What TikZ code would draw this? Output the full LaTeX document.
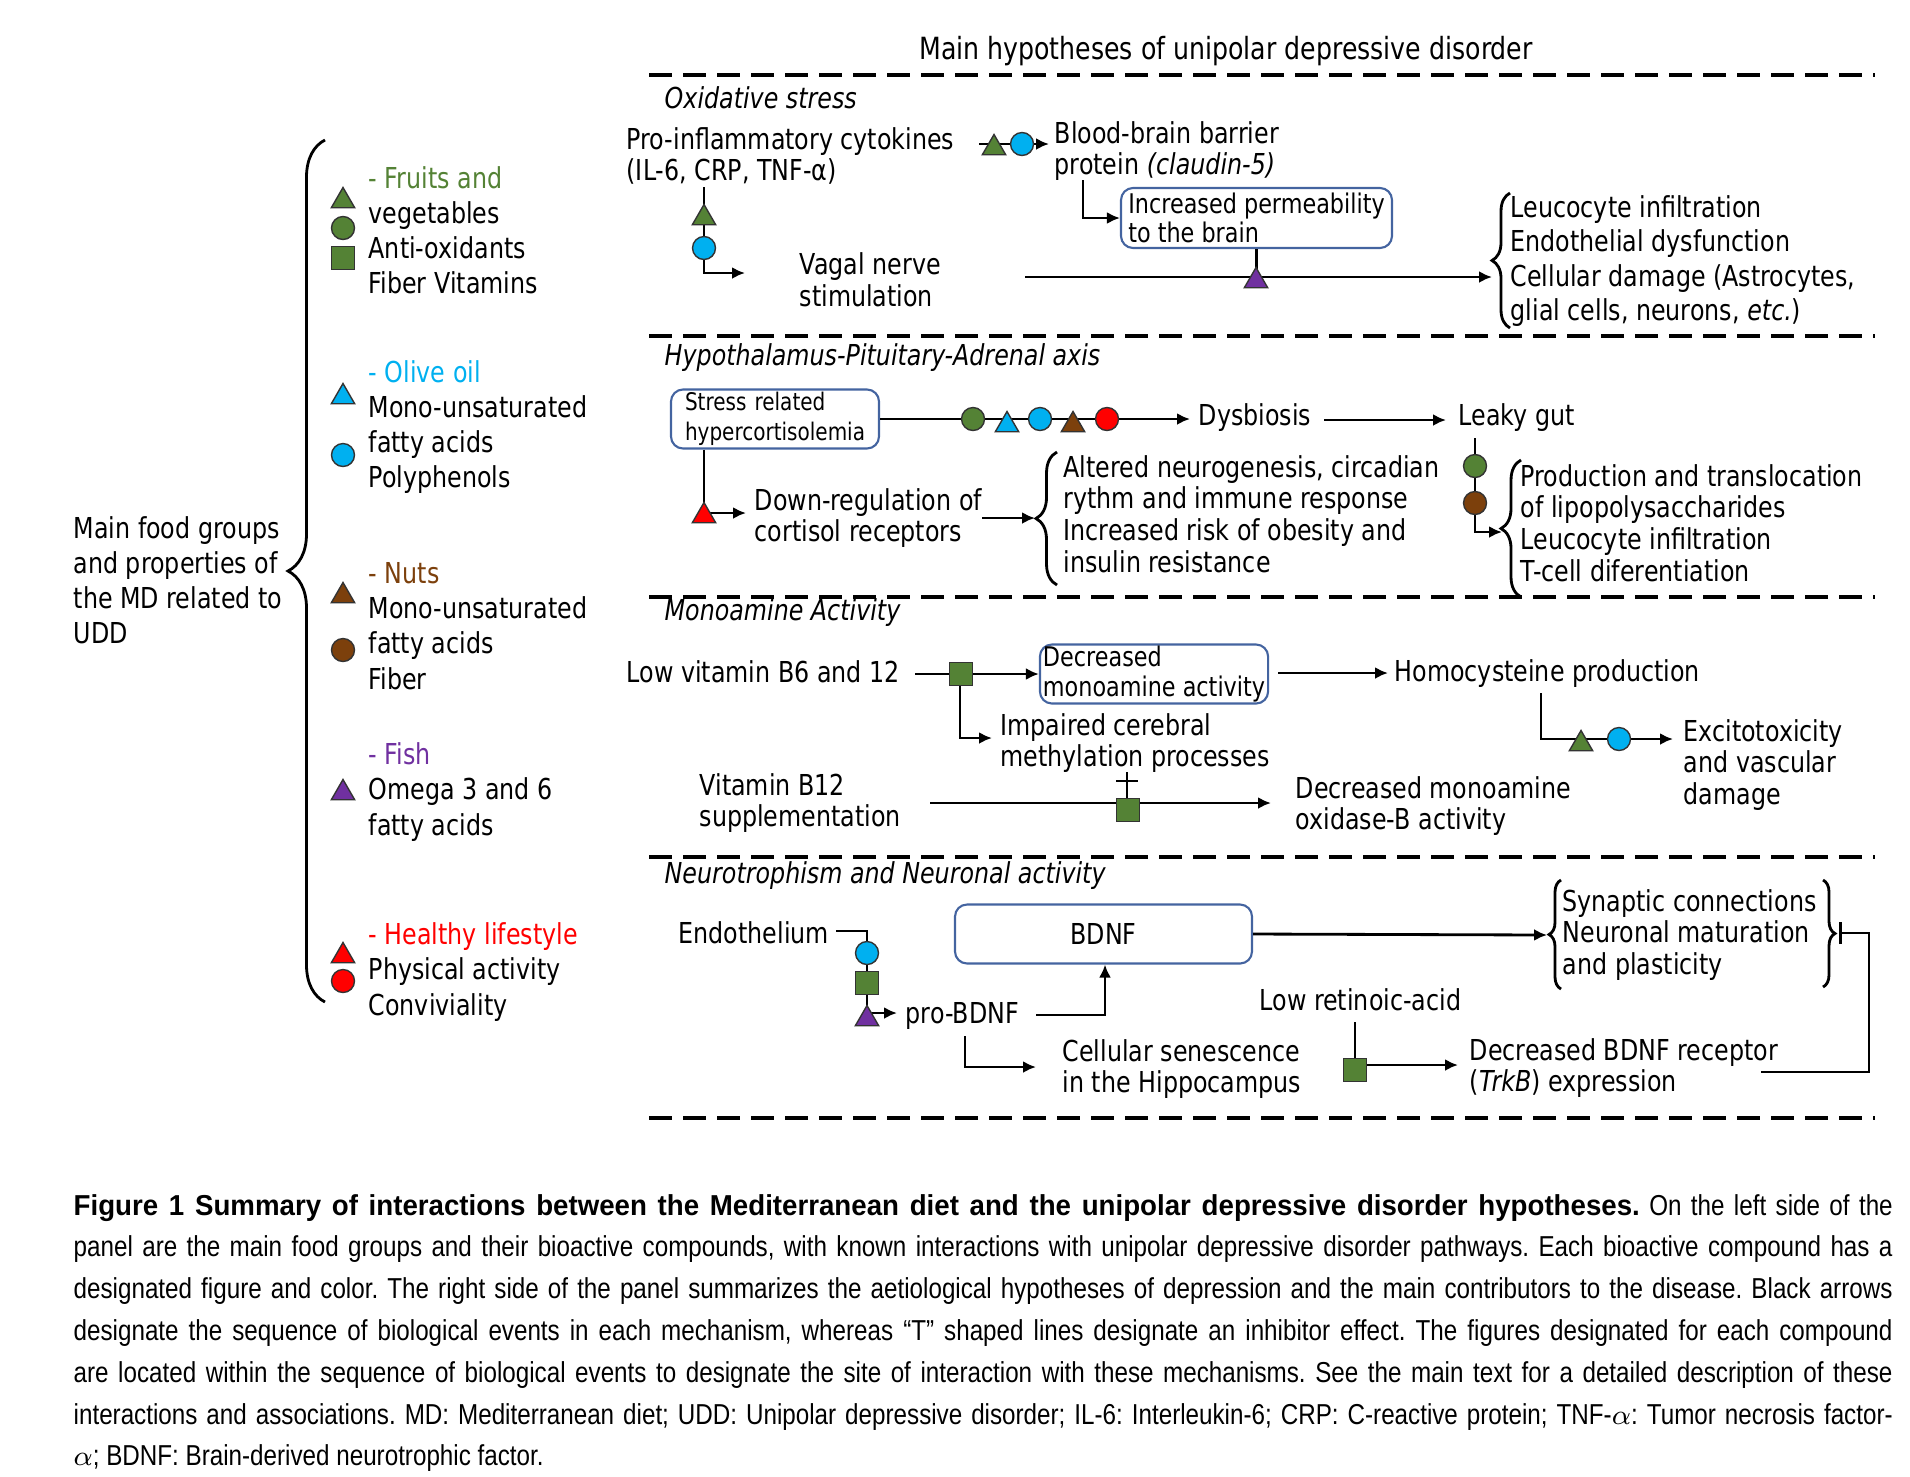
\documentclass[tikz,border=0pt]{standalone}
\usepackage{fontspec}
\setmainfont{DejaVu Sans}[FakeStretch=0.825]
\newfontfamily\capfont{Liberation Sans}[FakeStretch=0.84, BoldFeatures={FakeStretch=0.96}]
\usetikzlibrary{arrows.meta,shapes.geometric,decorations.pathreplacing}

\definecolor{fgreen}{RGB}{84,130,53}
\definecolor{fcyan}{RGB}{0,176,240}
\definecolor{fbrown}{RGB}{124,64,12}
\definecolor{fpurple}{RGB}{112,48,160}
\definecolor{fred}{RGB}{255,0,0}
\definecolor{boxblue}{RGB}{68,100,160}

\tikzset{
  txt/.style={inner sep=0pt, anchor=west, align=left, font=\fontsize{8.2}{9}\selectfont},
  leg/.style={txt, font=\fontsize{8.2}{10}\selectfont},
  sect/.style={txt, font=\fontsize{8.2}{9}\selectfont\itshape},
  hyp/.style={draw=boxblue, line width=0.6pt, rounded corners=1.2mm, inner xsep=0.3mm, inner ysep=0pt, align=left, font=\fontsize{7.7}{8.3}\selectfont},
  link/.style={line width=0.8pt},
  sep/.style={line width=1.2pt, dash pattern=on 2.3mm off 1.1mm},
  mk/.style={draw=black!80, line width=0.4pt, inner sep=0pt, outer sep=0pt},
  tri/.style={mk, regular polygon, regular polygon sides=3, minimum size=2.7mm, fill=#1},
  dot/.style={mk, circle, minimum size=2.3mm, fill=#1},
  sq/.style={mk, rectangle, minimum size=2.3mm, fill=#1},
  curly/.style={decorate, decoration={brace, amplitude=#1}, line width=0.8pt},
  curly/.default=1.9mm,
  capt/.style={inner sep=0pt, anchor=west, align=left, font=\capfont\fontsize{8.2}{11.9}\selectfont\frenchspacing},
  >={Latex[length=1.3mm,width=1.2mm]}
}

\begin{document}
\begin{tikzpicture}[x=0.1mm,y=-0.1mm]
\useasboundingbox (0,0) rectangle (1910,1476);

% food groups of the diet
\node[leg] (food) at (73,580) {Main food groups\\and properties of\\the MD related to\\UDD};
\draw[curly=3.7mm] (325,1002) -- (325,140);

\node[leg] (fruit) at (368,230) {\textcolor{fgreen}{- Fruits and}\\vegetables\\Anti-oxidants\\Fiber Vitamins};
\node[leg] (olive) at (368,427) {\textcolor{fcyan}{- Olive oil}\\Mono-unsaturated\\fatty acids\\Polyphenols};
\node[leg] (nuts) at (368,626) {\textcolor{fbrown}{- Nuts}\\Mono-unsaturated\\fatty acids\\Fiber};
\node[leg] (fish) at (368,792) {\textcolor{fpurple}{- Fish}\\Omega 3 and 6\\fatty acids};
\node[leg] (life) at (368,972) {\textcolor{fred}{- Healthy lifestyle}\\Physical activity\\Conviviality};

\node[tri=fgreen] (fruit-t) at (343,201) {};
\node[dot=fgreen] (fruit-c) at (343,228) {};
\node[sq=fgreen] (fruit-s) at (343,258) {};
\node[tri=fcyan] (olive-t) at (343,397) {};
\node[dot=fcyan] (olive-c) at (343,455) {};
\node[tri=fbrown] (nuts-t) at (343,596) {};
\node[dot=fbrown] (nuts-c) at (343,650) {};
\node[tri=fpurple] (fish-t) at (343,793) {};
\node[tri=fred] (life-t) at (343,956) {};
\node[dot=fred] (life-c) at (343,981) {};

% hypotheses
\node[txt, anchor=center, font=\fontsize{8.7}{9}\selectfont] (title) at (1226,51) {Main hypotheses of unipolar depressive disorder};
\foreach \y in {75,336,597,857,1118}
  \draw[sep] (649,\y) -- (1875,\y);

\node[sect] (s-ox) at (664,98) {Oxidative stress};
\node[sect] (s-hpa) at (664,358) {Hypothalamus-Pituitary-Adrenal axis};
\node[sect] (s-mono) at (664,613) {Monoamine Activity};
\node[sect] (s-neuro) at (664,876) {Neurotrophism and Neuronal activity};

% oxidative stress
\node[txt] (cyto) at (626,156) {Pro-inflammatory cytokines\\(IL-6, CRP, TNF-α)};
\node[txt] (bbb) at (1054,151) {Blood-brain barrier\\protein \textit{(claudin-5)}};
\node[hyp, minimum width=27.1mm, minimum height=6mm] (perm) at (1256.5,218) {Increased permeability\\to the brain};
\node[txt] (vagal) at (799,280) {Vagal nerve\\stimulation};
\node[txt, font=\fontsize{8.2}{9.8}\selectfont] (damage) at (1510,261) {Leucocyte infiltration\\Endothelial dysfunction\\Cellular damage (Astrocytes,\\glial cells, neurons, \textit{etc.})};

\coordinate (cy1) at (704,187);
\coordinate (cy2) at (745,273);
\coordinate (cy3) at (979,144);
\coordinate (cy4) at (1049,144);
\coordinate (bb1) at (1083,180);
\coordinate (vg1) at (1025,277);
\coordinate (vg2) at (1492,277);
\draw[link,->] (cy1) |- (cy2);
\draw[link,->] (cy3) -- (cy4);
\draw[link,->] (bb1) |- (perm.west);
\draw[link] (perm.south) -- (perm.south |- vg1);
\draw[link,->] (vg1) -- (vg2);
\draw[curly=1.8mm] (1510,328) -- (1510,193);

\node[tri=fgreen] (cy-t1) at (704,218) {};
\node[dot=fcyan] (cy-c1) at (704,248) {};
\node[tri=fgreen] (cy-t2) at (994,148) {};
\node[dot=fcyan] (cy-c2) at (1022,144) {};
\node[tri=fpurple] (vg-t) at (1256,281) {};

% HPA axis
\node[hyp, font=\fontsize{6.9}{8.5}\selectfont, inner xsep=1.4mm, text width=18mm, minimum height=5.9mm] (stress) at (775,419) {Stress related\\hypercortisolemia};
\node[txt] (dys) at (1198,418) {Dysbiosis};
\node[txt] (leaky) at (1458,418) {Leaky gut};
\node[txt] (down) at (754,518) {Down-regulation of\\cortisol receptors};
\node[txt] (alt) at (1063,514) {Altered neurogenesis, circadian\\rythm and immune response\\Increased risk of obesity and\\insulin resistance};
\node[txt] (lps) at (1520,523) {Production and translocation\\of lipopolysaccharides\\Leucocyte infiltration\\T-cell diferentiation};

\coordinate (st0) at (704,0);
\coordinate (st1) at (1190,419);
\coordinate (st2) at (746,513);
\coordinate (dy1) at (1324,420);
\coordinate (dy2) at (1446,420);
\coordinate (lk1) at (1475,438);
\coordinate (lk2) at (1502,532);
\coordinate (dn1) at (982,518);
\coordinate (dn2) at (1035,518);
\draw[link,->] (stress.east) -- (st1);
\draw[link,->] (dy1) -- (dy2);
\draw[link,->] (lk1) |- (lk2);
\draw[link,->] (stress.south -| st0) |- (st2);
\draw[link,->] (dn1) -- (dn2);
\draw[curly=2.1mm] (1057,585) -- (1057,452);
\draw[curly=2mm] (1521,597) -- (1521,460);

\node[dot=fgreen] (st-c1) at (973,419) {};
\node[tri=fcyan] (st-t1) at (1007,425) {};
\node[dot=fcyan] (st-c2) at (1040,419) {};
\node[tri=fbrown] (st-t2) at (1073,425) {};
\node[dot=fred] (st-c3) at (1107,419) {};
\node[tri=fred] (st-t3) at (704,516) {};
\node[dot=fgreen] (lk-c1) at (1475,466) {};
\node[dot=fbrown] (lk-c2) at (1475,503) {};

% monoamine activity
\node[txt] (lowb) at (626,672) {Low vitamin B6 and 12};
\node[hyp, minimum width=22.6mm, minimum height=5.9mm] (mao) at (1154,674) {Decreased\\monoamine activity};
\node[txt] (homo) at (1394,674) {Homocysteine production};
\node[txt] (excito) at (1683,765) {Excitotoxicity\\and vascular\\damage};
\node[txt] (impair) at (1000,743) {Impaired cerebral\\methylation processes};
\node[txt] (b12) at (699,803) {Vitamin B12\\supplementation};
\node[txt] (maob) at (1295,806) {Decreased monoamine\\oxidase-B activity};

\coordinate (lb1) at (915,674);
\coordinate (lb2) at (960,684);
\coordinate (lb3) at (992,738);
\coordinate (ma1) at (1278,673);
\coordinate (ma2) at (1388,673);
\coordinate (hc1) at (1541,693);
\coordinate (hc2) at (1673,739);
\coordinate (vb1) at (930,803);
\coordinate (vb2) at (1271,803);
\coordinate (vb3) at (1127,772);
\coordinate (vb4) at (1127,781);
\draw[link,->] (lb1) -- (mao.west);
\draw[link,->] (lb2) |- (lb3);
\draw[link,->] (ma1) -- (ma2);
\draw[link,->] (hc1) |- (hc2);
\draw[link,->] (vb1) -- (vb2);
\draw[link] (vb3 |- vb2) -- (vb3);
\draw[link] ([xshift=-1.1mm]vb4) -- ([xshift=1.1mm]vb4);

\node[sq=fgreen] (lb-s) at (961,674) {};
\node[tri=fgreen] (hc-t) at (1581,744) {};
\node[dot=fcyan] (hc-c) at (1619,739) {};
\node[sq=fgreen] (vb-s) at (1128,810) {};

% neurotrophism
\node[txt] (endo) at (678,933) {Endothelium};
\node[hyp, align=center, minimum width=29.7mm, minimum height=5.9mm, font=\fontsize{8.2}{9}\selectfont] (bdnf) at (1103.5,934) {BDNF};
\node[txt] (pro) at (905,1016) {pro-BDNF};
\node[txt] (syn) at (1562,935) {Synaptic connections\\Neuronal maturation\\and plasticity};
\node[txt] (lowret) at (1259,1000) {Low retinoic-acid};
\node[txt] (trkb) at (1469,1068) {Decreased BDNF receptor\\(\textit{TrkB}) expression};
\node[txt] (senes) at (1062,1069) {Cellular senescence\\in the Hippocampus};

\coordinate (en1) at (836,931);
\coordinate (en2) at (867,1013);
\coordinate (en3) at (897,1013);
\coordinate (pb1) at (1036,1015);
\coordinate (pb2) at (1105,0);
\coordinate (pb3) at (965,1036);
\coordinate (pb4) at (1036,1067);
\coordinate (lr1) at (1355,1022);
\coordinate (lr2) at (1458,1065);
\coordinate (bd1) at (1547,935);
\coordinate (tk1) at (1761,1072);
\coordinate (tk2) at (1869,933);
\coordinate (tk3) at (1839,933);
\draw[link] (en1) -| (en2);
\draw[link,->] (en2) -- (en3);
\draw[link,->] (pb1) -| (bdnf.south -| pb2);
\draw[link,->] (pb3) |- (pb4);
\draw[link,->] (bdnf.east) -- (bd1);
\draw[link,->] (lr1) |- (lr2);
\draw[link,-{Bar[width=2.2mm]}] (tk1) -| (tk2) -- (tk3);
\draw[curly=1.2mm] (1561,989) -- (1561,880);
\draw[curly=1.2mm] (1823,880) -- (1823,987);

\node[dot=fcyan] (en-c) at (867,953) {};
\node[sq=fgreen] (en-s) at (867,983) {};
\node[tri=fpurple] (en-t) at (867,1019) {};
\node[sq=fgreen] (lr-s) at (1355,1070) {};

% caption
\node[capt] (cap) at (73,1333) {%
\makebox[181.9mm][s]{\textbf{Figure 1 Summary of interactions between the Mediterranean diet and the unipolar depressive disorder hypotheses.} On the left side of the}\\
\makebox[181.9mm][s]{panel are the main food groups and their bioactive compounds, with known interactions with unipolar depressive disorder pathways. Each bioactive compound has a}\\
\makebox[181.9mm][s]{designated figure and color. The right side of the panel summarizes the aetiological hypotheses of depression and the main contributors to the disease. Black arrows}\\
\makebox[181.9mm][s]{designate the sequence of biological events in each mechanism, whereas “T” shaped lines designate an inhibitor effect. The figures designated for each compound}\\
\makebox[181.9mm][s]{are located within the sequence of biological events to designate the site of interaction with these mechanisms. See the main text for a detailed description of these}\\
\makebox[181.9mm][s]{interactions and associations. MD: Mediterranean diet; UDD: Unipolar depressive disorder; IL-6: Interleukin-6; CRP: C-reactive protein; TNF-$\alpha$: Tumor necrosis factor-}\\
$\alpha$; BDNF: Brain-derived neurotrophic factor.};
\end{tikzpicture}
\end{document}
